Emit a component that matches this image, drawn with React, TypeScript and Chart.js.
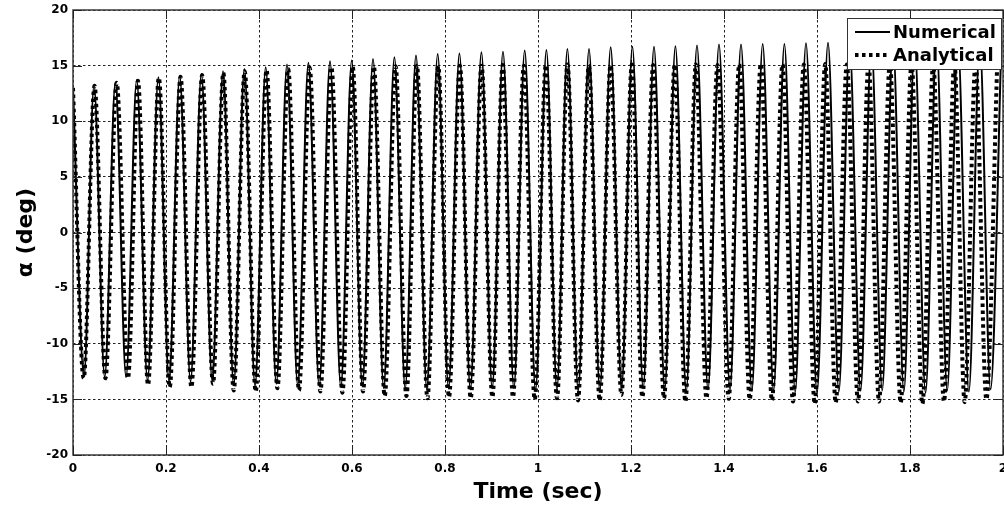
import React, { useEffect, useRef } from "react";
import { Chart, registerables } from "chart.js";

Chart.register(...registerables);

// Numerical solution: times and values of its successive maxima / minima
const numPeakT = [0, 0.0452, 0.0912, 0.137, 0.1837, 0.2295, 0.2761, 0.3226, 0.3686, 0.4144, 0.4602, 0.5062, 0.5527, 0.5994, 0.6452, 0.6912, 0.7376, 0.7843, 0.831, 0.8783, 0.9247, 0.9714, 1.0181, 1.0632, 1.1097, 1.1563, 1.203, 1.2495, 1.2955, 1.3419, 1.3892, 1.4366, 1.4832, 1.5299, 1.5763, 1.6237, 1.67, 1.717, 1.7634, 1.81, 1.857, 1.903, 1.95, 1.9966];
const numPeakV = [13.0, 13.2, 13.5, 13.7, 13.95, 14.1, 14.25, 14.5, 14.7, 14.85, 15.1, 15.25, 15.4, 15.45, 15.6, 15.75, 15.9, 16.05, 16.1, 16.2, 16.25, 16.35, 16.4, 16.5, 16.5, 16.65, 16.7, 16.7, 16.75, 16.8, 16.9, 16.9, 16.95, 16.95, 17.0, 17.05, 17.05, 17.1, 17.1, 17.1, 17.15, 17.15, 17.15, 17.2];
const numTroughT = [0.0237, 0.0682, 0.1141, 0.1603, 0.2066, 0.2528, 0.2994, 0.3456, 0.3915, 0.4373, 0.4832, 0.5295, 0.576, 0.6223, 0.6682, 0.7144, 0.761, 0.8076, 0.8546, 0.9015, 0.9481, 0.9947, 1.0406, 1.0865, 1.133, 1.1797, 1.2262, 1.2725, 1.3187, 1.3656, 1.4129, 1.4599, 1.5066, 1.5531, 1.6, 1.647, 1.6937, 1.7402, 1.7868, 1.8334, 1.88, 1.9266, 1.9732];
const numTroughV = [-12.9, -13.0, -13.0, -13.3, -13.4, -13.4, -13.3, -13.7, -13.8, -13.6, -13.7, -13.8, -13.9, -13.8, -14.0, -14.0, -14.1, -14.0, -14.1, -14.0, -14.0, -14.2, -14.1, -14.2, -14.2, -13.9, -14.0, -14.1, -14.3, -14.1, -14.1, -14.2, -14.2, -14.3, -14.4, -14.3, -14.2, -14.2, -14.3, -14.4, -14.2, -14.3, -14.1];

// Analytical solution: times and values of its successive maxima / minima
const anaPeakT = [0, 0.0463, 0.094, 0.1398, 0.1846, 0.2313, 0.2778, 0.3233, 0.3692, 0.4162, 0.4628, 0.509, 0.5557, 0.6015, 0.647, 0.6937, 0.7396, 0.7854, 0.8319, 0.8786, 0.9241, 0.9696, 1.0169, 1.0634, 1.1094, 1.156, 1.2019, 1.2477, 1.294, 1.3396, 1.3861, 1.4327, 1.4792, 1.5258, 1.5717, 1.6176, 1.6642, 1.7108, 1.7567, 1.8033, 1.8499, 1.8954, 1.941, 1.9875];
const anaPeakV = [13.0, 13.2, 13.45, 13.65, 13.9, 14.0, 14.15, 14.35, 14.5, 14.6, 14.7, 14.8, 14.85, 14.9, 14.9, 14.95, 15.0, 14.95, 15.0, 15.0, 15.05, 15.0, 15.05, 15.1, 15.0, 15.05, 15.1, 15.05, 15.1, 15.1, 15.05, 15.1, 15.15, 15.1, 15.1, 15.15, 15.1, 15.15, 15.2, 15.15, 15.1, 15.2, 15.15, 15.1];
const anaTroughT = [0.023, 0.0697, 0.1183, 0.1613, 0.208, 0.2546, 0.3011, 0.3456, 0.3929, 0.4396, 0.486, 0.532, 0.5794, 0.6237, 0.6703, 0.717, 0.7622, 0.8086, 0.8553, 0.9019, 0.9462, 0.9929, 1.0409, 1.086, 1.1327, 1.1794, 1.2245, 1.271, 1.317, 1.3622, 1.4101, 1.4553, 1.5032, 1.5484, 1.595, 1.6402, 1.6882, 1.7333, 1.78, 1.8267, 1.8731, 1.9176, 1.9643];
const anaTroughV = [-13.1, -13.1, -13.1, -13.7, -13.9, -13.9, -13.6, -14.2, -14.3, -14.0, -14.2, -14.3, -14.4, -14.3, -14.7, -14.7, -14.9, -14.8, -14.9, -14.8, -14.8, -15.0, -14.9, -15.1, -15.1, -14.6, -14.8, -14.9, -15.2, -14.9, -14.95, -15.0, -15.1, -15.2, -15.4, -15.3, -15.2, -15.2, -15.3, -15.4, -15.2, -15.25, -15.0];

const seriesLabels = ["Numerical", "Analytical"];
const xTitle = "Time (sec)";
const yTitle = "\u03b1 (deg)";
const xMin = 0, xMax = 2, xStep = 0.2;
const yMin = -20, yMax = 20, yStep = 5;

function merge(pt: number[], pv: number[], tt: number[], tv: number[]) {
  const out: { x: number; y: number }[] = [];
  for (let i = 0; i < pt.length; i++) {
    out.push({ x: pt[i], y: pv[i] });
    if (i < tt.length) out.push({ x: tt[i], y: tv[i] });
  }
  return out;
}

const FONT = "'DejaVu Sans', sans-serif";

const framePlugin = {
  id: "frame",
  afterDraw(chart: any) {
    const { ctx, chartArea } = chart;
    const { left, right, top, bottom } = chartArea;
    ctx.save();
    ctx.strokeStyle = "#3a3a3a";
    ctx.lineWidth = 1.5;
    ctx.setLineDash([]);
    ctx.strokeRect(left, top, right - left, bottom - top);
    // inner tick marks
    ctx.lineWidth = 1;
    ctx.strokeStyle = "#222";
    const xs = chart.scales.x;
    const ys = chart.scales.y;
    const tl = 9;
    ctx.beginPath();
    xs.ticks.forEach((t: any) => {
      const p = Math.round(xs.getPixelForValue(t.value)) + 0.5;
      ctx.moveTo(p, bottom);
      ctx.lineTo(p, bottom - tl);
      ctx.moveTo(p, top);
      ctx.lineTo(p, top + tl);
    });
    ys.ticks.forEach((t: any) => {
      const p = Math.round(ys.getPixelForValue(t.value)) + 0.5;
      ctx.moveTo(left, p);
      ctx.lineTo(left + tl, p);
      ctx.moveTo(right, p);
      ctx.lineTo(right - tl, p);
    });
    ctx.stroke();

    // legend box
    const bx = right - 156, by = top + 8, bw = 154, bh = 51;
    ctx.fillStyle = "#fff";
    ctx.fillRect(bx, by, bw, bh);
    ctx.strokeStyle = "#333";
    ctx.lineWidth = 1;
    ctx.strokeRect(bx + 0.5, by + 0.5, bw, bh);
    const ds = chart.data.datasets;
    const rows = [by + 14, by + 37];
    ds.forEach((d: any, i: number) => {
      ctx.beginPath();
      ctx.strokeStyle = "#000";
      ctx.lineWidth = d.borderWidth;
      ctx.setLineDash(d.borderDash || []);
      ctx.moveTo(bx + 8, rows[i]);
      ctx.lineTo(bx + 43, rows[i]);
      ctx.stroke();
      ctx.setLineDash([]);
      ctx.fillStyle = "#000";
      ctx.font = `bold 18px ${FONT}`;
      ctx.textBaseline = "middle";
      ctx.textAlign = "left";
      ctx.fillText(d.label, bx + 46, rows[i] + 1);
    });
    ctx.restore();
  },
};

export default function App() {
  const ref = useRef<HTMLCanvasElement>(null);
  useEffect(() => {
    if (!ref.current) return;
    const chart = new Chart(ref.current, {
      type: "line",
      data: {
        datasets: [
          {
            label: seriesLabels[0],
            data: merge(numPeakT, numPeakV, numTroughT, numTroughV),
            borderColor: "#000",
            borderWidth: 2,
            pointRadius: 0,
            cubicInterpolationMode: "monotone",
            fill: false,
            order: 2,
          },
          {
            label: seriesLabels[1],
            data: merge(anaPeakT, anaPeakV, anaTroughT, anaTroughV),
            borderColor: "#000",
            borderWidth: 4,
            borderDash: [3.5, 3.5],
            pointRadius: 0,
            cubicInterpolationMode: "monotone",
            fill: false,
            order: 1,
          },
        ],
      },
      options: {
        animation: false,
        responsive: false,
        parsing: false,
        layout: { padding: { left: 0, top: 10, right: 1, bottom: 0 } },
        plugins: { legend: { display: false }, tooltip: { enabled: false } },
        scales: {
          x: {
            type: "linear",
            min: xMin,
            max: xMax,
            ticks: {
              stepSize: xStep,
              color: "#000",
              font: { family: FONT, weight: "bold", size: 12 },
              padding: 7,
              maxRotation: 0,
              callback: (v: any) => String(Math.round(Number(v) * 10) / 10),
            },
            grid: { color: "#222", lineWidth: 1, drawTicks: false },
            border: { display: false, dash: [2.5, 2.5] },
            title: {
              display: true,
              text: xTitle,
              color: "#000",
              font: { family: FONT, weight: "bold", size: 22 },
              padding: { top: 0, bottom: 3 },
            },
            afterFit: (s: any) => {
              s.height = 53;
              s.paddingLeft = 0;
              s.paddingRight = 0;
            },
          },
          y: {
            type: "linear",
            min: yMin,
            max: yMax,
            ticks: {
              stepSize: yStep,
              color: "#000",
              font: { family: FONT, weight: "bold", size: 12 },
              padding: 5,
            },
            grid: { color: "#222", lineWidth: 1, drawTicks: false },
            border: { display: false, dash: [2.5, 2.5] },
            title: {
              display: true,
              text: yTitle,
              color: "#000",
              font: { family: FONT, weight: "bold", size: 22 },
              padding: { top: 13, bottom: 0 },
            },
            afterFit: (s: any) => {
              s.width = 73;
              s.paddingTop = 0;
              s.paddingBottom = 0;
            },
          },
        },
      } as any,
      plugins: [framePlugin],
    });
    return () => chart.destroy();
  }, []);
  return (
    <div style={{ position: "absolute", left: 0, top: 0, width: 1004, height: 508, background: "#fff" }}>
      <canvas ref={ref} width={1004} height={508} style={{ display: "block" }} />
    </div>
  );
}
